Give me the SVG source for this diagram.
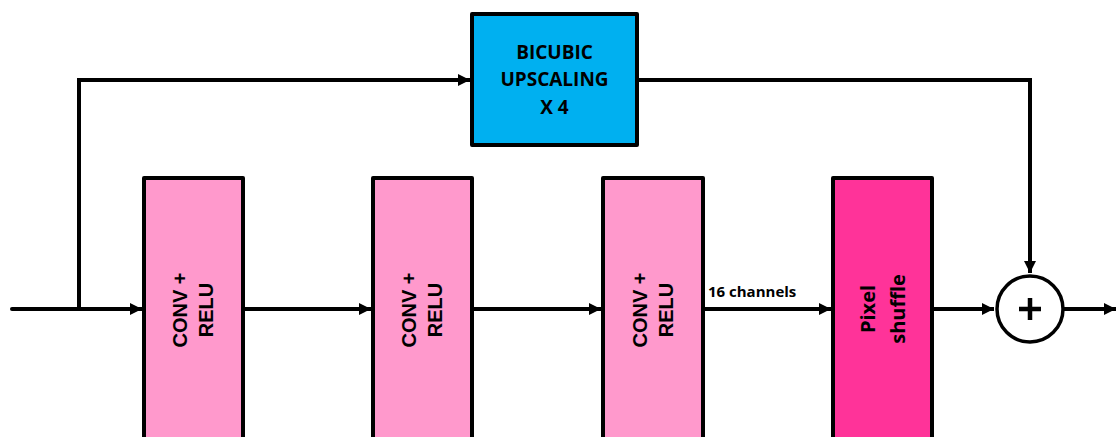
<svg xmlns="http://www.w3.org/2000/svg" width="1116" height="437" viewBox="0 0 1116 437">
<style>
.box{stroke:#000;stroke-width:4;stroke-linejoin:round}
.conv{fill:#FF99CC}
.ps{fill:#FF3399}
.bic{fill:#00B0F0}
.line{fill:none;stroke:#000;stroke-width:4;stroke-linejoin:miter}
.t1{font-family:"Liberation Sans",Arial,sans-serif;font-weight:bold;font-size:20px;fill:#000;text-anchor:middle}
.t2{font-family:"Open Sans",Lato,sans-serif;font-weight:bold;font-size:19px;fill:#000;text-anchor:middle}
.t3{font-family:"Open Sans",Lato,sans-serif;font-weight:bold;font-size:15px;fill:#000}
</style>
<defs>
<marker id="ah" markerWidth="12" markerHeight="12" viewBox="0 0 12 12" refX="12" refY="6" orient="auto" markerUnits="userSpaceOnUse">
<path d="M0,0 L12,6 L0,12 Z" fill="#000"/>
</marker>
</defs>
<rect width="1116" height="437" fill="#fff"/>
<g id="connectors">
<path class="line" d="M12,309 H142" marker-end="url(#ah)" stroke-linecap="round"/>
<path class="line" d="M79,309 V80 H470" marker-end="url(#ah)"/>
<path class="line" d="M243,309 H371" marker-end="url(#ah)"/>
<path class="line" d="M472,309 H601" marker-end="url(#ah)"/>
<path class="line" d="M703,309 H831" marker-end="url(#ah)"/>
<path class="line" d="M932,309 H994" marker-end="url(#ah)"/>
<path class="line" d="M637,80 H1030 V273" marker-end="url(#ah)"/>
<path class="line" d="M1064,309 H1116" marker-end="url(#ah)"/>
<text class="t3" x="708" y="297">16 channels</text>
</g>
<g id="bicubic">
<rect class="box bic" x="472" y="14" width="165" height="131"/>
<text class="t2" x="554.5" y="59">BICUBIC</text>
<text class="t2" x="554.5" y="86">UPSCALING</text>
<text class="t2" x="554.5" y="114">X 4</text>
</g>
<g id="conv1">
<rect class="box conv" x="144" y="178" width="99" height="270"/>
<g transform="translate(193.5,310) rotate(-90)">
<text class="t1" x="0" y="-6.5">CONV +</text>
<text class="t1" x="0" y="19.5">RELU</text>
</g>
</g>
<g id="conv2">
<rect class="box conv" x="373" y="178" width="99" height="270"/>
<g transform="translate(422.5,310) rotate(-90)">
<text class="t1" x="0" y="-6.5">CONV +</text>
<text class="t1" x="0" y="19.5">RELU</text>
</g>
</g>
<g id="conv3">
<rect class="box conv" x="603" y="178" width="100" height="270"/>
<g transform="translate(653,310) rotate(-90)">
<text class="t1" x="0" y="-6.5">CONV +</text>
<text class="t1" x="0" y="19.5">RELU</text>
</g>
</g>
<g id="pixelshuffle">
<rect class="box ps" x="833" y="178" width="99" height="270"/>
<g transform="translate(882.5,309) rotate(-90)">
<text class="t2" x="0" y="-7.5" style="font-size:20px">Pixel</text>
<text class="t2" x="0" y="22.5" style="font-size:20px">shuffle</text>
</g>
</g>
<g id="sum">
<circle cx="1030" cy="309" r="33" fill="#fff" stroke="#000" stroke-width="3.5"/>
<path d="M1019,309 H1041 M1030,298 V320" stroke="#000" stroke-width="4.5" fill="none"/>
</g>
</svg>
